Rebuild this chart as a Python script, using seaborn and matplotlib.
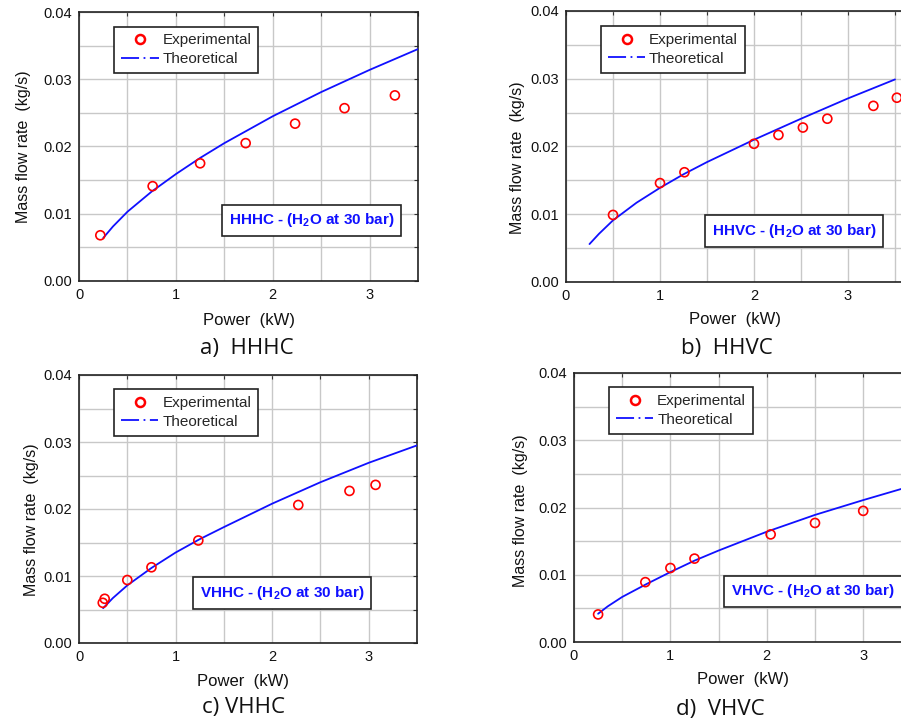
import matplotlib
matplotlib.use("Agg")
import matplotlib.pyplot as plt
import seaborn as sns
from matplotlib.lines import Line2D
from matplotlib.ticker import MultipleLocator, FormatStrFormatter

# ---------------- data ----------------
panel_keys = ["HHHC", "HHVC", "VHHC", "VHVC"]
panel_captions = ["a)  HHHC", "b)  HHVC", "c) VHHC", "d)  VHVC"]

hhhc_exp_power = [0.22, 0.76, 1.25, 1.72, 2.23, 2.74, 3.26]
hhhc_exp_flow = [0.0068, 0.0141, 0.0175, 0.0205, 0.0234, 0.0257, 0.0276]
hhhc_theo_power = [0.25, 0.35, 0.5, 0.75, 1.0, 1.25, 1.5, 2.0, 2.5, 3.0, 3.5]
hhhc_theo_flow = [0.0064, 0.0081, 0.0103, 0.0133, 0.0159, 0.0183, 0.0205, 0.0245, 0.0281, 0.0314, 0.0345]

hhvc_exp_power = [0.50, 1.00, 1.26, 2.00, 2.26, 2.52, 2.78, 3.27, 3.52]
hhvc_exp_flow = [0.0099, 0.0146, 0.0162, 0.0204, 0.0217, 0.0228, 0.0241, 0.0260, 0.0272]
hhvc_theo_power = [0.25, 0.35, 0.5, 0.75, 1.0, 1.25, 1.5, 2.0, 2.5, 3.0, 3.5]
hhvc_theo_flow = [0.0056, 0.0071, 0.0091, 0.0117, 0.0139, 0.0159, 0.0177, 0.0210, 0.0241, 0.0271, 0.0299]

vhhc_exp_power = [0.246, 0.266, 0.50, 0.75, 1.235, 2.27, 2.80, 3.07]
vhhc_exp_flow = [0.0060, 0.0066, 0.0094, 0.0113, 0.0153, 0.0206, 0.0227, 0.0236]
vhhc_theo_power = [0.25, 0.35, 0.5, 0.75, 1.0, 1.25, 1.5, 2.0, 2.5, 3.0, 3.5]
vhhc_theo_flow = [0.0052, 0.0067, 0.0086, 0.0112, 0.0135, 0.0155, 0.0173, 0.0208, 0.0240, 0.0269, 0.0295]

vhvc_exp_power = [0.25, 0.74, 1.00, 1.25, 2.04, 2.50, 3.00]
vhvc_exp_flow = [0.0041, 0.0089, 0.0110, 0.0124, 0.0160, 0.0177, 0.0195]
vhvc_theo_power = [0.25, 0.35, 0.5, 0.75, 1.0, 1.25, 1.5, 2.0, 2.5, 3.0, 3.5]
vhvc_theo_flow = [0.0042, 0.0053, 0.0067, 0.0086, 0.0104, 0.0121, 0.0136, 0.0164, 0.0189, 0.0211, 0.0232]

y_ticks = [0.00, 0.01, 0.02, 0.03, 0.04]
x_ticks = [0, 1, 2, 3]

series = {
    "HHHC": (hhhc_exp_power, hhhc_exp_flow, hhhc_theo_power, hhhc_theo_flow),
    "HHVC": (hhvc_exp_power, hhvc_exp_flow, hhvc_theo_power, hhvc_theo_flow),
    "VHHC": (vhhc_exp_power, vhhc_exp_flow, vhhc_theo_power, vhhc_theo_flow),
    "VHVC": (vhvc_exp_power, vhvc_exp_flow, vhvc_theo_power, vhvc_theo_flow),
}

# ---------------- style ----------------
sns.set_theme(style="white")
plt.rcParams["font.family"] = ["Liberation Sans", "DejaVu Sans"]
plt.rcParams["mathtext.fontset"] = "custom"
plt.rcParams["mathtext.rm"] = "Liberation Sans"
plt.rcParams["mathtext.bf"] = "Liberation Sans:bold"

RED = "#ff0000"
BLUE = "#1010ff"
W, H = 901, 723

fig = plt.figure(figsize=(W / 100, H / 100), dpi=100)
fig.patch.set_facecolor("white")

layout = {
    "HHHC": dict(left=79, top=12, bottom=281, ppu=96.9, xmax=3.5,
                 ylab=(-0.165, 0.50), xlab=(0.50, -0.145), leg=(0.104, 0.946),
                 box=(0.686, 0.225), cap=(247, 348)),
    "HHVC": dict(left=566, top=11, bottom=282, ppu=94.0, xmax=4.0,
                 ylab=(-0.130, 0.46), xlab=(0.449, -0.140), leg=(0.093, 0.944),
                 box=(0.606, 0.187), cap=(727, 348)),
    "VHHC": dict(left=79, top=375, bottom=643, ppu=96.6, xmax=3.5,
                 ylab=(-0.140, 0.46), xlab=(0.485, -0.145), leg=(0.104, 0.947),
                 box=(0.600, 0.186), cap=(243, 708)),
    "VHVC": dict(left=574, top=373, bottom=642, ppu=96.4, xmax=4.0,
                 ylab=(-0.140, 0.49), xlab=(0.438, -0.141), leg=(0.091, 0.947),
                 box=(0.620, 0.188), cap=(720, 709)),
}

for key, cap in zip(panel_keys, panel_captions):
    L = layout[key]
    ex, ey, tx, ty = series[key]
    width_px = L["ppu"] * L["xmax"]
    ax = fig.add_axes([L["left"] / W, (H - L["bottom"]) / H,
                       width_px / W, (L["bottom"] - L["top"]) / H])
    ax.set_facecolor("white")

    sns.lineplot(x=tx, y=ty, ax=ax, color=BLUE, lw=1.3, sort=False,
                 estimator=None, zorder=3)
    sns.scatterplot(x=ex, y=ey, ax=ax, marker="o", s=42, color=RED,
                    facecolor="none", edgecolor=RED, linewidth=1.2, zorder=4)

    ax.set_xlim(0, L["xmax"])
    ax.set_ylim(0, 0.04)
    ax.set_xticks(x_ticks)
    ax.set_yticks(y_ticks)
    ax.yaxis.set_major_formatter(FormatStrFormatter("%.2f"))
    ax.xaxis.set_minor_locator(MultipleLocator(0.5))
    ax.yaxis.set_minor_locator(MultipleLocator(0.005))
    ax.grid(True, which="both", color="#c8c8c8", lw=1.0, zorder=0)
    ax.set_axisbelow(True)
    ax.tick_params(which="both", direction="in", top=True, right=True,
                   length=3, width=0.8, color="#333333",
                   labelsize=10.5, pad=5, labelcolor="#111111")
    for sp in ax.spines.values():
        sp.set_color("#222222")
        sp.set_linewidth(1.2)

    ax.set_xlabel("Power  (kW)", fontsize=12, color="#111111", va="center")
    ax.xaxis.set_label_coords(*L["xlab"])
    ax.set_ylabel("Mass flow rate  (kg/s)", fontsize=11.5, color="#111111", va="center")
    ax.yaxis.set_label_coords(*L["ylab"])

    handles = [
        Line2D([], [], marker="o", ls="none", mfc="none", mec=RED, mew=1.8, ms=6.5),
        Line2D([], [], color=BLUE, ls=(0, (10, 2.5, 1, 2.5)), lw=1.3),
    ]
    leg = ax.legend(handles, ["Experimental", "Theoretical"], loc="upper left",
                    bbox_to_anchor=L["leg"], fontsize=11, frameon=True,
                    fancybox=False, framealpha=1, edgecolor="#222222",
                    handlelength=2.45, handletextpad=0.25, labelspacing=0.3,
                    borderpad=0.45, borderaxespad=0)
    leg.get_frame().set_linewidth(1.2)
    leg.set_zorder(6)

    ax.text(L["box"][0], L["box"][1], key + r" - (H$_\mathbf{2}$O at 30 bar)",
            transform=ax.transAxes, ha="center", va="center", fontsize=11,
            fontweight="bold", color=BLUE, zorder=7,
            bbox=dict(boxstyle="square,pad=0.45", fc="white", ec="#222222", lw=1.2))

    fig.text(L["cap"][0] / W, 1 - L["cap"][1] / H, cap, ha="center", va="center",
             fontsize=16, family=["Open Sans", "DejaVu Sans"], color="#111111")

fig.savefig("out.png", dpi=100, facecolor="white")
